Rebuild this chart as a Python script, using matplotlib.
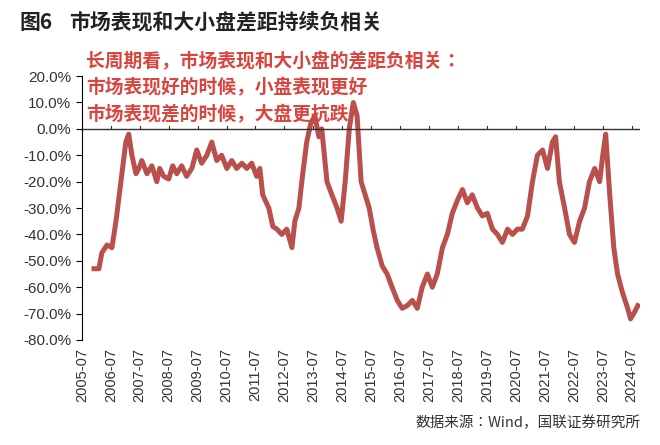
import matplotlib
matplotlib.use("Agg")
import matplotlib.pyplot as plt
from matplotlib import font_manager

names = sorted({f.name for f in font_manager.fontManager.ttflist if 'CJK' in f.name or 'Noto' in f.name})
print(names)
cjk = [n for n in ['Noto Sans CJK SC', 'Noto Sans CJK JP', 'Noto Sans CJK TC', 'Noto Sans CJK KR'] if n in names] + names
plt.rcParams['font.family'] = 'sans-serif'
plt.rcParams['font.sans-serif'] = cjk + ['DejaVu Sans']

# time in fractional years, spread in %
years = [2005.92,2006.09,2006.19,2006.37,2006.54,2006.68,2006.85,2007.02,2007.12,2007.23,2007.37,2007.47,
 2007.57,2007.75,2007.92,2008.09,2008.19,2008.33,2008.5,2008.64,2008.78,2008.95,2009.12,2009.3,2009.47,
 2009.64,2009.82,2009.99,2010.16,2010.33,2010.51,2010.68,2010.85,2011.03,2011.2,2011.37,2011.54,2011.65,
 2011.75,2011.96,2012.1,2012.24,2012.41,2012.58,2012.76,2012.86,2013.0,2013.1,2013.27,2013.41,2013.55,
 2013.69,2013.79,2013.97,2014.14,2014.32,2014.46,2014.6,2014.74,2014.88,2015.01,2015.15,2015.29,2015.43,
 2015.56,2015.7,2015.88,2016.05,2016.22,2016.4,2016.57,2016.74,2016.92,2017.09,2017.26,2017.44,2017.61,
 2017.78,2017.96,2018.13,2018.3,2018.48,2018.65,2018.82,2018.99,2019.17,2019.34,2019.51,2019.69,2019.86,
 2020.03,2020.21,2020.38,2020.55,2020.72,2020.9,2021.07,2021.24,2021.42,2021.59,2021.76,2021.87,2022.0,
 2022.18,2022.35,2022.52,2022.7,2022.87,2023.04,2023.22,2023.39,2023.5,2023.6,2023.74,2023.88,2024.01,
 2024.18,2024.36,2024.46,2024.57,2024.71]
spread = [-53,-53,-47,-44,-45,-35,-20,-5,-2,-10,-17,-15,-12,-17,-14,-20,-15,-18,-19,-14,-17,-14,-18,-15,-8,
 -13,-10,-5,-12,-10,-15,-12,-15,-13,-15,-13,-18,-15,-25,-30,-37,-38,-40,-38,-45,-35,-30,-20,-5,2,5,-3,0,
 -20,-25,-30,-35,-20,0,10,5,-20,-25,-30,-38,-45,-52,-55,-60,-65,-68,-67,-65,-68,-60,-55,-60,-55,-45,-40,
 -32,-27,-23,-28,-25,-30,-33,-32,-38,-40,-43,-38,-40,-38,-38,-33,-20,-10,-8,-15,-5,-3,-20,-30,-40,-43,-35,
 -30,-20,-15,-20,-10,-2,-25,-45,-55,-62,-68,-72,-70,-67]
tick_labels = [f"{y}-07" for y in range(2005, 2025)]
yticks = list(range(20, -90, -10))

fig = plt.figure(figsize=(6.6, 4.45), dpi=100)
ax = fig.add_axes([0.124, 0.236, 0.845, 0.593])
red = '#b9504c'
ax.plot(years, spread, color=red, lw=3.6, solid_joinstyle='round')
ax.set_xlim(2005.5, 2024.77)
ax.set_ylim(-80, 20)
ax.set_yticks(yticks)
ax.set_yticklabels([f"{v:.1f}%" for v in yticks], fontsize=11, family='Liberation Sans', color='#333333')
xt = [y + 0.5 for y in range(2005, 2025)]
ax.set_xticks(xt)
ax.set_xticklabels(tick_labels, rotation=90, fontsize=10.5, family='Liberation Sans', color='#333333')
ax.tick_params(axis='x', length=0, pad=6)
ax.tick_params(axis='y', length=4, direction='out')
for s in ['top', 'right', 'bottom']:
    ax.spines[s].set_visible(False)
ax.axhline(0, color='#333333', lw=1)
for x in xt:
    ax.plot([x, x], [0, 1.2], color='#333333', lw=0.8)

fig.text(0.03, 0.935, "图6", fontsize=15, fontweight='bold', color='#222222')
fig.text(0.105, 0.935, "市场表现和大小盘差距持续负相关", fontsize=15, fontweight='bold', color='#222222')
ax_txt = dict(fontsize=13.5, fontweight='bold', color='#d9443c')
fig.text(0.13, 0.85, "长周期看，市场表现和大小盘的差距负相关：", **ax_txt)
fig.text(0.13, 0.79, "市场表现好的时候，小盘表现更好", **ax_txt)
fig.text(0.13, 0.73, "市场表现差的时候，大盘更抗跌", **ax_txt)
fig.text(0.97, 0.04, "数据来源：Wind，国联证券研究所", fontsize=10.5, ha='right', color='#333333')
fig.savefig("out.png", dpi=100)
